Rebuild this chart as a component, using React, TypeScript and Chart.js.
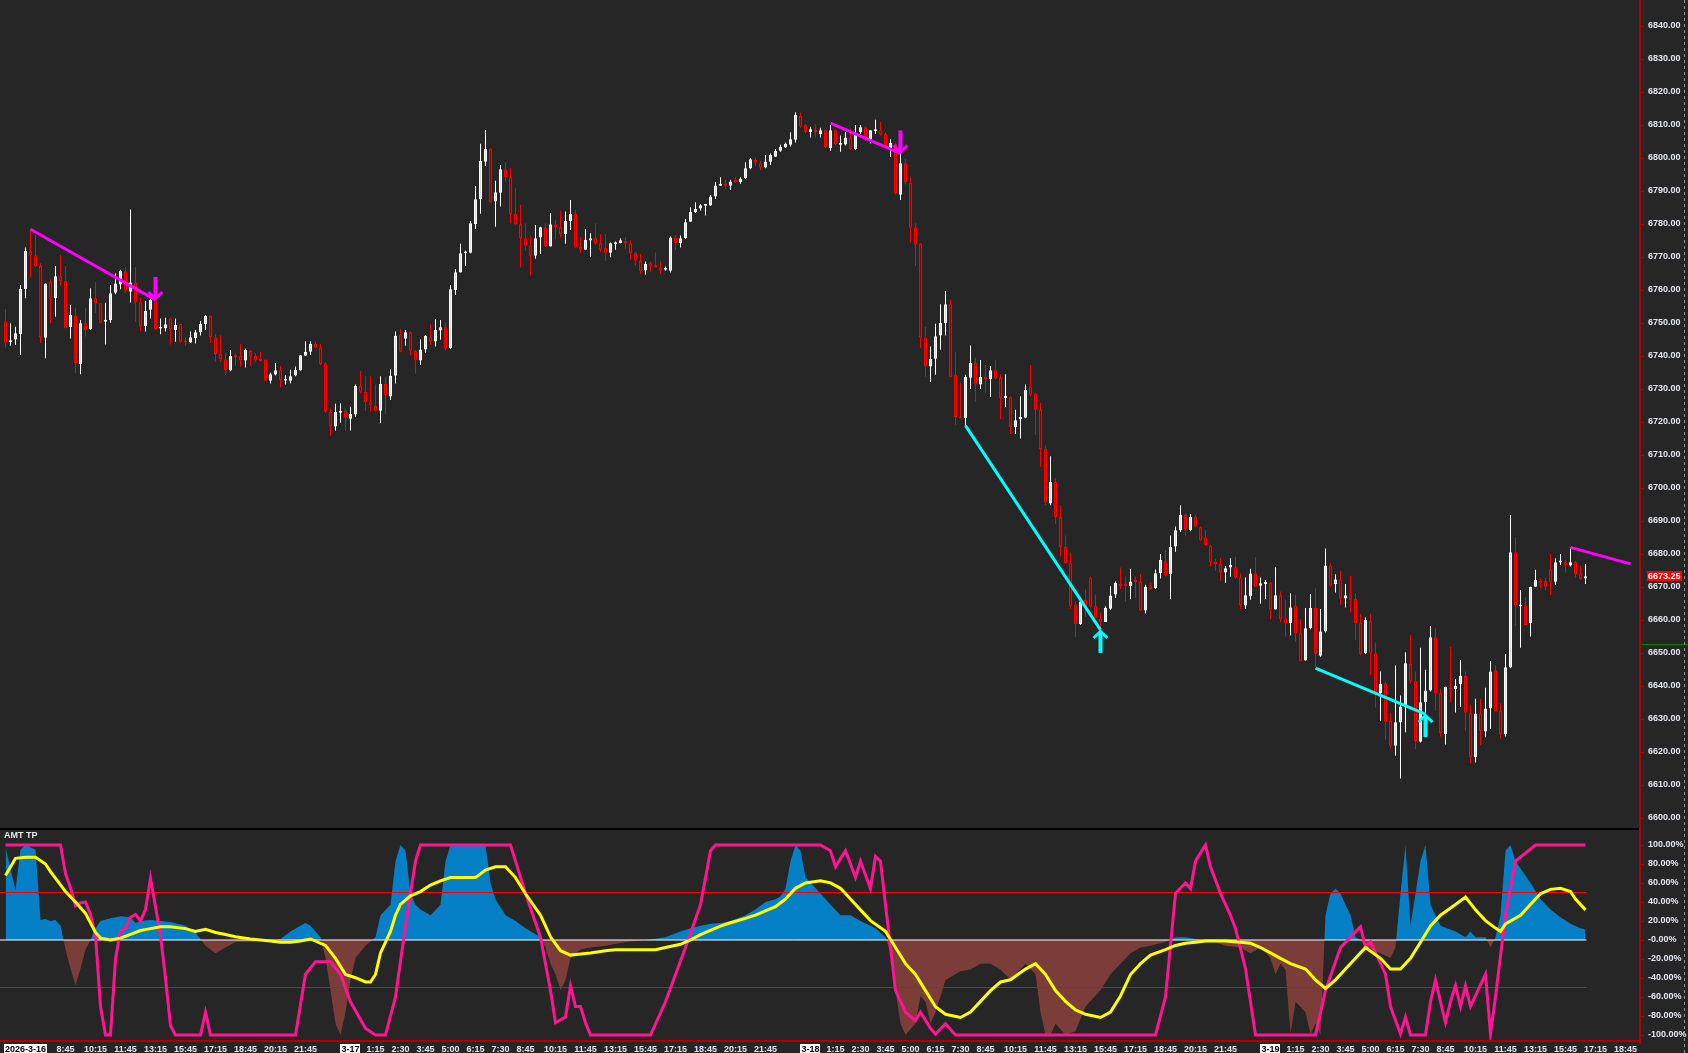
import React, { useEffect, useRef } from 'react';
import { Chart, registerables } from 'chart.js';
Chart.register(...registerables);

// ---------------- price data (15-min bars) ----------------
const opens = [
6750.4,6744.2,6745.0,6746.6,6760.2,6771.8,6770.5,6767.3,6745.5,6762.5,
6757.5,6764.2,6762.7,6748.7,6752.1,6737.5,6749.9,6748.1,6757.5,6756.0,
6750.4,6750.9,6759.2,6761.7,6765.7,6759.5,6762.3,6756.3,6749.1,6754.0,
6756.7,6748.3,6748.4,6751.4,6747.9,6749.7,6744.6,6744.1,6745.4,6747.1,
6749.6,6752.1,6745.7,6740.6,6739.0,6735.6,6740.1,6740.0,6738.6,6741.5,
6740.0,6738.8,6738.8,6732.5,6734.4,6735.7,6732.5,6732.5,6734.1,6735.6,
6740.1,6741.3,6743.6,6742.6,6737.8,6723.1,6718.6,6722.8,6723.3,6721.0,
6722.3,6730.9,6729.1,6726.1,6724.9,6723.4,6731.5,6727.7,6734.0,6746.5,
6745.2,6747.2,6741.5,6738.6,6742.0,6745.7,6744.4,6747.7,6748.7,6742.4,
6760.0,6765.3,6771.1,6771.3,6779.9,6787.5,6798.9,6802.7,6786.8,6789.5,
6796.6,6794.2,6783.0,6779.9,6775.7,6773.5,6770.4,6775.9,6779.0,6773.2,
6779.9,6779.0,6777.0,6780.9,6783.0,6773.0,6772.2,6775.0,6775.7,6774.2,
6772.7,6771.3,6773.9,6774.2,6774.7,6774.0,6771.3,6768.9,6765.9,6768.1,
6767.5,6766.9,6766.1,6765.8,6775.9,6774.2,6775.7,6780.7,6783.6,6784.7,
6785.5,6785.6,6788.3,6791.6,6792.1,6791.6,6793.1,6792.7,6793.9,6796.9,
6799.4,6798.4,6797.1,6798.9,6800.4,6802.2,6803.2,6804.0,6805.5,6812.7,
6810.0,6807.9,6808.4,6807.3,6808.4,6803.0,6808.4,6804.0,6804.1,6806.2,
6802.7,6807.9,6809.2,6805.7,6808.1,6808.4,6807.3,6803.0,6804.1,6788.9,
6798.4,6792.4,6779.0,6774.0,6745.6,6736.8,6739.2,6746.2,6750.0,6755.7,
6734.3,6721.6,6721.1,6733.4,6737.9,6731.4,6733.7,6733.0,6735.7,6733.4,
6727.3,6727.5,6718.4,6720.8,6721.3,6730.5,6728.6,6723.7,6711.8,6695.3,
6701.8,6691.2,6682.1,6677.2,6664.7,6658.8,6666.1,6672.9,6664.2,6660.4,
6659.4,6663.4,6667.7,6671.0,6671.0,6670.2,6672.1,6671.7,6662.9,6670.2,
6669.7,6674.2,6677.8,6673.9,6682.3,6687.2,6691.9,6687.2,6691.2,6688.1,
6685.0,6682.4,6677.7,6677.0,6674.4,6675.9,6676.0,6672.9,6664.4,6667.1,
6674.1,6670.4,6670.9,6671.4,6663.2,6667.5,6660.5,6659.0,6664.2,6656.0,
6647.7,6657.5,6663.6,6649.2,6656.5,6676.5,6670.8,6672.3,6666.5,6667.5,
6666.4,6659.0,6649.9,6659.7,6649.9,6637.8,6640.8,6629.4,6621.9,6629.0,
6633.8,6646.7,6641.5,6623.1,6635.1,6638.6,6654.8,6637.8,6625.4,6639.6,
6639.0,6640.5,6643.0,6632.0,6618.4,6631.7,6626.2,6633.2,6644.7,6632.5,
6625.4,6645.6,6680.5,6664.1,6664.4,6659.0,6670.1,6671.9,6671.8,6675.4,
6671.6,6677.4,6677.5,6676.5,6677.5,6674.1,6672.6];
const highs = [
6754.2,6749.9,6748.9,6761.5,6772.9,6778.4,6776.7,6768.1,6762.0,6763.2,
6767.3,6770.6,6767.3,6755.5,6754.6,6750.9,6754.6,6760.5,6762.4,6756.0,
6756.1,6761.5,6765.0,6766.1,6766.9,6784.4,6766.9,6757.5,6756.7,6759.0,
6757.0,6751.4,6751.6,6751.6,6751.4,6749.9,6745.6,6747.4,6747.9,6750.6,
6752.4,6752.3,6746.7,6746.4,6741.0,6741.8,6740.8,6743.6,6742.3,6742.0,
6740.8,6741.2,6739.0,6734.9,6737.9,6737.0,6734.2,6735.8,6736.8,6740.3,
6744.5,6744.5,6744.3,6743.6,6738.0,6724.1,6725.5,6725.7,6724.1,6724.6,
6731.4,6735.5,6733.9,6733.9,6731.4,6733.9,6733.7,6736.0,6747.4,6748.1,
6747.9,6747.4,6741.8,6745.1,6746.4,6749.7,6751.2,6750.9,6750.1,6761.5,
6766.4,6774.0,6771.9,6780.9,6791.5,6804.3,6808.5,6803.0,6793.1,6797.9,
6798.8,6796.9,6790.8,6785.8,6780.2,6776.4,6779.7,6779.2,6780.2,6783.3,
6781.2,6784.0,6783.8,6787.3,6784.3,6776.0,6778.5,6777.2,6780.2,6777.0,
6777.0,6774.4,6774.7,6775.7,6776.0,6775.0,6771.6,6770.9,6768.6,6768.7,
6771.4,6768.6,6767.1,6776.2,6776.7,6776.5,6781.5,6785.1,6786.6,6786.0,
6785.8,6788.8,6792.7,6794.2,6793.4,6793.4,6794.2,6794.2,6798.7,6799.9,
6800.1,6799.1,6800.9,6801.4,6802.7,6804.0,6804.7,6807.8,6813.9,6813.8,
6810.2,6809.5,6810.2,6809.2,6808.6,6810.0,6808.7,6806.8,6807.9,6808.9,
6810.0,6810.0,6809.5,6808.4,6811.6,6810.9,6807.9,6805.7,6804.6,6801.4,
6799.7,6794.3,6780.3,6774.3,6748.9,6742.9,6749.8,6755.7,6759.7,6757.2,
6741.3,6731.9,6734.3,6743.2,6739.5,6738.8,6737.3,6737.0,6738.8,6734.5,
6734.5,6727.8,6723.7,6727.8,6731.4,6737.3,6728.9,6725.8,6712.9,6709.6,
6702.9,6694.8,6685.6,6680.4,6665.6,6665.6,6669.2,6673.2,6667.7,6662.3,
6664.2,6670.2,6671.7,6675.9,6673.2,6675.5,6673.2,6673.9,6670.7,6671.3,
6675.3,6680.0,6681.1,6685.6,6688.3,6694.8,6692.3,6692.1,6691.9,6688.3,
6687.3,6682.7,6678.5,6678.7,6676.4,6678.7,6679.2,6674.1,6672.9,6675.5,
6679.0,6672.9,6672.1,6671.6,6676.0,6668.6,6666.1,6668.1,6667.6,6660.2,
6663.6,6667.9,6669.6,6663.3,6681.7,6677.2,6673.9,6674.9,6670.9,6673.3,
6668.1,6661.8,6660.8,6661.8,6653.2,6644.4,6641.3,6631.9,6646.2,6637.1,
6650.2,6655.5,6644.4,6651.6,6644.9,6658.2,6657.5,6639.1,6639.8,6651.9,
6642.1,6647.9,6644.4,6634.3,6636.1,6636.1,6639.5,6647.6,6646.2,6634.8,
6649.7,6691.8,6685.1,6669.1,6666.9,6670.1,6675.2,6672.6,6672.9,6680.0,
6678.7,6680.0,6678.2,6682.0,6677.9,6676.4,6677.0];
const lows = [
6742.6,6743.1,6743.3,6740.3,6757.5,6763.7,6766.9,6744.0,6739.3,6749.9,
6751.9,6761.3,6748.4,6745.3,6734.8,6734.5,6745.9,6747.9,6753.1,6749.9,
6743.5,6750.1,6758.7,6760.2,6759.0,6756.2,6750.4,6747.6,6747.4,6751.4,
6747.9,6746.6,6747.4,6743.5,6744.3,6744.0,6743.1,6743.9,6743.8,6746.2,
6747.9,6744.0,6738.3,6738.3,6734.2,6735.4,6737.0,6736.8,6736.5,6737.0,
6738.0,6738.3,6732.5,6731.7,6734.1,6730.5,6731.4,6731.7,6733.9,6735.6,
6740.0,6740.3,6742.3,6737.3,6722.8,6715.8,6717.4,6719.8,6717.4,6717.4,
6721.6,6728.7,6723.4,6723.1,6723.1,6719.6,6722.3,6726.7,6731.7,6741.1,
6743.1,6740.3,6734.6,6737.3,6741.0,6743.4,6742.9,6744.9,6741.6,6742.1,
6758.5,6765.3,6767.3,6771.1,6778.5,6783.1,6797.6,6786.5,6779.2,6785.3,
6792.9,6780.2,6779.7,6766.8,6771.9,6764.4,6769.5,6770.9,6773.2,6773.2,
6775.4,6775.9,6774.0,6778.2,6772.9,6771.3,6772.2,6770.1,6773.7,6771.6,
6768.9,6769.9,6772.2,6774.2,6772.5,6769.1,6767.4,6764.9,6764.6,6765.6,
6766.9,6764.9,6765.8,6765.3,6772.2,6772.9,6775.5,6780.7,6783.3,6784.1,
6782.6,6785.5,6787.6,6791.6,6790.6,6790.3,6792.4,6792.2,6793.7,6796.6,
6797.6,6796.4,6796.9,6797.9,6800.4,6801.9,6803.0,6803.5,6804.7,6809.2,
6807.5,6806.2,6806.2,6806.2,6803.0,6802.2,6803.9,6801.9,6803.8,6802.5,
6802.5,6807.3,6805.2,6804.4,6807.3,6806.8,6803.5,6800.3,6788.9,6787.3,
6792.0,6774.5,6767.3,6742.4,6733.7,6732.1,6734.3,6741.9,6746.2,6733.7,
6719.1,6721.1,6718.9,6730.0,6726.2,6730.0,6728.9,6727.6,6733.0,6720.8,
6724.5,6716.4,6716.4,6715.0,6721.1,6727.8,6716.1,6706.4,6694.8,6694.8,
6689.1,6679.3,6677.2,6663.4,6654.8,6658.5,6660.9,6663.7,6660.5,6657.5,
6659.4,6663.1,6666.7,6669.4,6665.6,6666.3,6666.7,6662.7,6662.0,6669.1,
6669.4,6672.6,6673.2,6666.3,6680.7,6686.7,6685.6,6686.9,6688.0,6684.0,
6682.5,6676.2,6674.9,6671.9,6671.3,6673.1,6672.4,6663.3,6663.3,6666.1,
6670.1,6664.9,6666.3,6660.2,6663.2,6659.3,6655.0,6655.3,6653.4,6647.6,
6647.7,6657.2,6645.9,6648.9,6656.2,6670.1,6668.3,6664.6,6663.8,6662.3,
6653.9,6649.4,6649.7,6643.3,6633.5,6629.5,6623.8,6621.1,6618.9,6612.0,
6626.0,6640.8,6620.8,6622.9,6632.0,6638.3,6632.5,6624.7,6622.3,6635.0,
6632.0,6633.6,6626.5,6616.6,6616.8,6622.1,6624.5,6627.0,6632.4,6624.2,
6624.7,6645.4,6658.3,6651.6,6658.5,6655.0,6670.1,6669.6,6669.1,6667.6,
6670.6,6676.7,6674.4,6676.2,6672.9,6672.1,6670.9];
const closes = [
6744.0,6744.8,6746.9,6760.3,6771.8,6770.5,6767.2,6745.7,6762.0,6757.8,
6764.2,6762.7,6748.4,6752.4,6737.8,6749.9,6747.8,6757.5,6756.0,6750.1,
6750.9,6759.0,6762.0,6765.8,6759.8,6762.3,6756.2,6749.1,6753.6,6757.0,
6748.1,6748.6,6749.6,6748.1,6749.4,6744.3,6744.1,6745.7,6747.2,6749.7,
6752.1,6745.7,6740.6,6739.0,6735.6,6740.0,6739.6,6738.6,6741.8,6739.8,
6738.6,6738.5,6732.5,6734.5,6735.7,6732.7,6733.0,6733.9,6735.8,6740.2,
6741.3,6743.6,6742.6,6737.6,6723.1,6718.6,6723.1,6723.1,6721.3,6722.4,
6730.9,6729.2,6726.0,6725.0,6723.4,6731.5,6728.0,6734.0,6746.1,6741.3,
6747.2,6741.6,6738.6,6742.0,6746.1,6744.4,6747.9,6748.7,6742.2,6760.2,
6765.4,6771.1,6771.5,6780.2,6787.5,6799.1,6802.7,6786.5,6789.6,6796.6,
6794.2,6783.0,6779.9,6775.7,6773.5,6770.4,6775.7,6779.0,6773.2,6779.9,
6779.1,6777.0,6780.9,6783.1,6772.9,6772.2,6775.2,6775.7,6774.0,6772.2,
6771.3,6774.2,6774.2,6775.1,6774.2,6771.1,6768.9,6765.6,6767.9,6767.1,
6766.9,6765.9,6766.4,6775.9,6774.2,6775.7,6780.5,6783.6,6784.6,6785.7,
6785.8,6788.3,6791.7,6792.1,6791.6,6792.9,6792.7,6793.7,6796.9,6799.6,
6798.6,6797.1,6798.9,6800.9,6802.1,6803.3,6804.3,6805.7,6813.1,6809.5,
6807.9,6808.7,6807.9,6808.4,6803.2,6808.4,6804.1,6804.4,6806.2,6802.7,
6807.3,6809.3,6806.2,6808.4,6808.4,6807.1,6803.8,6804.6,6789.3,6798.4,
6792.7,6778.9,6773.8,6745.6,6737.0,6739.2,6746.0,6750.0,6755.7,6733.7,
6721.5,6721.1,6733.7,6737.9,6731.4,6733.7,6733.0,6735.7,6733.2,6727.3,
6727.8,6718.4,6720.5,6721.5,6729.7,6728.3,6723.7,6711.8,6695.7,6701.8,
6691.2,6682.1,6677.2,6664.2,6658.8,6665.6,6664.2,6664.0,6660.7,6659.4,
6663.7,6667.4,6671.3,6670.2,6670.2,6671.7,6671.5,6662.9,6670.1,6669.4,
6674.2,6678.2,6673.5,6682.1,6687.2,6691.9,6687.5,6691.2,6688.3,6684.2,
6682.7,6677.4,6676.9,6674.4,6675.7,6676.7,6672.9,6664.4,6667.5,6674.1,
6670.1,6671.1,6671.5,6663.2,6667.5,6660.2,6659.0,6663.8,6656.0,6647.6,
6657.5,6663.6,6649.6,6656.5,6676.5,6670.4,6672.3,6666.6,6667.5,6666.1,
6659.0,6649.7,6660.0,6650.1,6637.3,6640.6,6629.2,6621.9,6629.0,6633.8,
6646.9,6641.6,6623.3,6635.1,6638.6,6654.8,6637.8,6625.7,6639.8,6639.0,
6640.1,6643.1,6632.0,6618.4,6631.7,6626.4,6633.2,6644.4,6632.4,6625.4,
6645.7,6680.5,6664.4,6664.6,6658.5,6670.1,6672.1,6671.3,6670.1,6671.6,
6677.5,6677.7,6676.5,6677.5,6673.8,6672.4,6673.25];

const priceTicks = [6600,6610,6620,6630,6640,6650,6660,6670,6680,6690,6700,6710,6720,6730,6740,6750,6760,6770,6780,6790,6800,6810,6820,6830,6840];
const pctTicks = [100,80,60,40,20,0,-20,-40,-60,-80,-100];
const greenLevel = 6652.75;

// trend lines (bar index / price) and arrows
const trendStartIdx = [5, 165, 313, 192, 262];
const trendStartPrice = [6778.4, 6810.6, 6682.0, 6718.9, 6645.4];
const trendEndIdx = [30, 179, 325, 219, 284];
const trendEndPrice = [6757.0, 6801.4, 6677.0, 6657.0, 6631.5];
const trendIsUp = [false, false, false, true, true];
const arrowIdx = [30, 179, 219, 284];
const arrowPrice = [6757.0, 6801.4, 6657.0, 6631.5];
const arrowIsUp = [false, false, true, true];

// x-axis labels
const timeTickIdx = [0,12,18,24,30,36,42,48,54,60,69,74,79,84,89,94,99,104,110,116,122,128,134,140,146,152,161,166,171,176,181,186,191,196,202,208,214,220,226,232,238,244,253,258,263,268,273,278,283,288,294,300,306,312,318,324];
const timeTickLabels = ['2026-3-16','8:45','10:15','11:45','13:15','15:45','17:15','18:45','20:15','21:45','3-17','1:15','2:30','3:45','5:00','6:15','7:30','8:45','10:15','11:45','13:15','15:45','17:15','18:45','20:15','21:45','3-18','1:15','2:30','3:45','5:00','6:15','7:30','8:45','10:15','11:45','13:15','15:45','17:15','18:45','20:15','21:45','3-19','1:15','2:30','3:45','5:00','6:15','7:30','8:45','10:15','11:45','13:15','15:45','17:15','18:45'];

// ---------------- AMT TP indicator ----------------
const histIdx = [0,1,2,3,4,6,7,8,9,10,11,12,13,14,15,16,17,18,19,21,23,25,26,27,29,31,33,36,38,40,42,44,46,49,51,53,55,57,59,60,61,63,64,65,66,67,68,69,70,72,74,75,77,78,79,80,81,82,83,85,87,88,89,96,97,98,100,102,104,107,108,109,110,111,112,113,115,117,120,124,128,132,135,137,139,141,143,145,148,150,152,154,155,156,157,158,159,160,163,165,167,169,171,173,174,176,177,178,179,180,182,183,184,185,186,187,188,191,193,195,197,199,201,204,206,207,208,209,210,212,214,216,219,221,223,225,227,229,232,234,236,238,240,242,244,247,249,251,253,254,255,256,257,258,260,261,262,263,264,265,266,267,268,269,270,271,272,275,277,278,279,280,281,282,283,284,285,287,290,292,293,294,296,297,298,299,300,301,302,305,307,309,311,313,315,316];
const histVal = [98,75,53,95,100,95,21,22,20,21,15,-10,-30,-48,-30,-10,0,12,20,23,25,24,18,20,21,20,19,15,8,-6,-14,-8,-2,-2,0,-2,1,9,15,18,15,3,-19,-53,-88,-100,-76,-42,-19,-6,3,26,37,83,100,94,49,37,32,26,37,83,100,100,60,43,26,20,12.5,3,-8,-25,-36,-53,-42,-19,-10,-8,-6,-2,0,3,9,12.5,15,17,18,20,26,32,40,43,46,54,83,100,94,66,49,37,26,26,20,15,12.5,3,-14,-53,-88,-100,-88,-59,-65,-88,-76,-59,-42,-33,-31,-25,-25,-31,-42,-25,-36,-76,-100,-100,-88,-100,-96,-70,-53,-36,-25,-14,-8,-6,-2,3,3,1,-1,-2,-6,-8,-14,-8,-19,-36,-25,-31,-99,-65,-76,-99,-88,-100,26,49,54,49,37,26,3,0,-8,-14,-19,-8,49,100,15,49,83,100,37,15,9,3,9,3,3,-8,3,26,94,100,83,60,43,32,24,17,12.5,11];
const magIdx = [0,11,12,13,14,15,16,17,18,19,20,21,22,23,24,25,26,27,28,29,30,31,32,33,34,39,40,41,58,60,62,65,67,69,72,74,76,78,80,82,83,101,102,104,107,109,110,112,113,114,115,116,117,129,132,136,139,141,142,163,165,166,168,170,171,173,174,175,176,177,178,180,182,183,185,186,188,190,230,232,234,236,237,238,240,241,243,245,246,248,250,262,264,267,269,271,272,273,276,277,279,280,281,284,285,286,287,288,289,290,291,292,293,296,297,298,300,302,306,316];
const magVal = [100,100,70,55,36,39,40,27,5,-70,-100,-100,-20,10,12,24,27,20,32,65,35,5,-40,-90,-100,-100,-76,-100,-100,-36,-23,-23,-36,-65,-93,-100,-100,-60,15,83,100,100,83,49,3,-53,-87,-81,-48,-70,-70,-87,-100,-100,-65,-8,37,94,100,100,94,77,94,66,83,54,88,83,37,-8,-53,-76,-85,-76,-93,-99,-88,-100,-100,-60,49,60,54,83,100,77,49,26,12,-30,-100,-100,-53,-8,3,14,-8,-2,-36,-70,-99,-81,-100,-100,-65,-42,-65,-87,-65,-48,-70,-48,-70,-36,-99,-60,26,83,100,100];
const yellowIdx = [0,2,4,6,8,9,11,12,14,16,17,18,19,21,23,25,27,29,31,33,36,38,40,42,44,46,49,51,53,55,57,59,61,64,66,68,70,72,73,74,75,77,78,79,81,83,85,87,89,92,94,96,98,100,102,104,107,109,111,113,115,117,120,122,124,126,128,130,132,135,137,139,141,143,145,148,150,152,154,156,158,160,163,165,167,169,171,173,176,178,180,182,184,186,188,191,193,195,197,199,201,204,206,208,210,212,214,216,219,221,223,225,227,229,232,234,236,238,240,242,244,247,249,251,253,255,257,260,262,264,266,268,270,272,275,277,279,281,283,285,287,290,292,294,296,298,299,300,303,305,307,309,311,313,314,316];
const yellowVal = [68,86,87,87,80,72,58,51,40,28,18,8,2,0,2,6,10,12,14,14,12,9.1,11.3,7.9,5.7,3.4,1.1,0,-1.1,-2.3,-2.3,-1.1,1.1,-5.7,-19.3,-36.3,-39.7,-44.2,-44.2,-36.3,-13.6,9.1,26.1,37.4,46.5,51.0,57.8,62.3,65.7,65.7,65.7,73.6,77.0,77.0,65.7,48.7,26.1,3.4,-11.3,-15.9,-14.7,-13.6,-11.3,-10.2,-10.2,-10.2,-10.2,-10.2,-7.9,-4.5,0,5.7,10.2,14.7,18.1,22.7,26.1,30.6,35.1,43.1,54.4,60.1,62.3,60.1,54.4,43.1,31.7,20.4,9.1,-7.9,-24.9,-36.3,-53.3,-70.2,-78.2,-81.6,-75.9,-64.6,-53.3,-44.2,-41.9,-30.6,-24.9,-36.3,-53.3,-64.6,-73.6,-78.2,-81.6,-75.9,-58.9,-36.3,-24.9,-15.9,-10.2,-5.7,-3.4,-2.3,-1.1,-1.1,-1.1,-2.3,-3.4,-7.9,-13.6,-19.3,-24.9,-30.6,-41.9,-51.0,-41.9,-30.6,-19.3,-7.9,-19.3,-30.6,-30.6,-19.3,-2.3,14.7,26.1,37.4,45.3,31.7,20.4,12.5,9.1,17.0,26.1,37.4,48.7,53.3,54.4,51.0,43.1,31.7];
const levelValues = [50, 0, -50];
const levelColors = ['#ff0000', '#ffffff', '#008000'];
const levelEndIdx = 316.2;

// ---------------- layout / style ----------------
const W = 1688;
const MAIN_H = 828;
const IND_H = 225;
const AXIS_W = 48;
const BG = '#262626';
const AXIS_RED = '#b40000';
const LABEL = '#e4e7f0';
const FONT = '"Liberation Sans", Arial, sans-serif';
const X_MIN = -1.1;
const X_MAX = 326.9;
const PRICE_MIN = 6596.97;
const PRICE_MAX = 6847.88;
const PCT_MIN = -105.26;
const PCT_MAX = 115.79;

function makeArrow(color: string, up: boolean): HTMLCanvasElement {
  const c = document.createElement('canvas');
  c.width = 21;
  c.height = 50;
  const g = c.getContext('2d')!;
  const cx = 10.5;
  const tip = 25;
  const dir = up ? 1 : -1;
  g.fillStyle = color;
  g.strokeStyle = color;
  if (up) g.fillRect(cx - 2, tip + 3, 4, 20);
  else g.fillRect(cx - 2, tip - 23, 4, 20);
  g.lineWidth = 3;
  g.lineJoin = 'miter';
  g.beginPath();
  g.moveTo(cx - 7, tip + dir * 8);
  g.lineTo(cx, tip + dir * 1.5);
  g.lineTo(cx + 7, tip + dir * 8);
  g.stroke();
  return c;
}

function yAxisCommon(tickValues: number[], fmt: (v: number) => string) {
  return {
    type: 'linear' as const,
    position: 'right' as const,
    beginAtZero: false,
    afterBuildTicks: (s: any) => { s.ticks = tickValues.map((v) => ({ value: v })); },
    afterFit: (s: any) => { s.width = AXIS_W; s.paddingTop = 0; s.paddingBottom = 0; },
    ticks: {
      color: LABEL,
      font: { family: FONT, size: 9, weight: 'bold' as const },
      padding: 4,
      autoSkip: false,
      callback: (v: any) => fmt(Number(v)),
    },
    grid: { drawOnChartArea: false, drawTicks: true, tickLength: 4, color: AXIS_RED, lineWidth: 1 },
    border: { display: true, color: AXIS_RED, width: 2 },
  };
}

function drawDashed(ctx: CanvasRenderingContext2D, h: number) {
  ctx.save();
  ctx.strokeStyle = '#8c8c8c';
  ctx.lineWidth = 1;
  ctx.setLineDash([3, 3]);
  ctx.beginPath();
  ctx.moveTo(1684.5, 0);
  ctx.lineTo(1684.5, h);
  ctx.stroke();
  ctx.restore();
}

export default function App() {
  const mainRef = useRef<HTMLCanvasElement>(null);
  const indRef = useRef<HTMLCanvasElement>(null);

  useEffect(() => {
    document.body.style.margin = '0';
    document.body.style.background = BG;
    const charts: Chart[] = [];

    const isUp = closes.map((c, i) => c >= opens[i]);
    const wickData = highs.map((h, i) => ({ x: i, y: [lows[i], h] }));
    const bodyData = opens.map((o, i) => {
      const lo = Math.min(o, closes[i]);
      const hi = Math.max(o, closes[i], lo + 0.6);
      return { x: i, y: [lo, hi] };
    });

    const trendSets = trendStartIdx.map((s, k) => ({
      type: 'line' as const,
      data: [{ x: s, y: trendStartPrice[k] }, { x: trendEndIdx[k], y: trendEndPrice[k] }],
      borderColor: trendIsUp[k] ? '#00ffff' : '#ff00ff',
      borderWidth: 3,
      pointRadius: 0,
      tension: 0,
      order: 1,
    }));

    const arrowSet = {
      type: 'line' as const,
      data: arrowIdx.map((x, k) => ({ x, y: arrowPrice[k] })),
      showLine: false,
      pointStyle: arrowIdx.map((_, k) => makeArrow(arrowIsUp[k] ? '#00ffff' : '#ff00ff', arrowIsUp[k])),
      pointRadius: 10,
      order: 0,
    };

    const bgPlugin = {
      id: 'bg',
      beforeDraw(chart: any) {
        const ctx = chart.ctx;
        ctx.save();
        ctx.fillStyle = BG;
        ctx.fillRect(0, 0, chart.width, chart.height);
        ctx.restore();
      },
    };

    const mainOverlay = {
      id: 'mainOverlay',
      afterDraw(chart: any) {
        const ctx: CanvasRenderingContext2D = chart.ctx;
        const y = chart.scales.y;
        ctx.save();
        const gy = Math.round(y.getPixelForValue(greenLevel)) + 0.5;
        ctx.strokeStyle = '#008000';
        ctx.lineWidth = 1;
        ctx.beginPath();
        ctx.moveTo(1641, gy);
        ctx.lineTo(W, gy);
        ctx.stroke();
        const last = closes[closes.length - 1];
        const py = y.getPixelForValue(last);
        ctx.fillStyle = '#ff0000';
        ctx.fillRect(1647, Math.round(py) - 5, 35, 10);
        ctx.fillStyle = '#ffffff';
        ctx.font = `bold 9px ${FONT}`;
        ctx.textBaseline = 'middle';
        ctx.textAlign = 'left';
        ctx.fillText(last.toFixed(2), 1648, Math.round(py) + 0.5);
        ctx.restore();
        drawDashed(ctx, chart.height);
      },
    };

    if (mainRef.current) {
      charts.push(new Chart(mainRef.current, {
        type: 'bar',
        data: {
          datasets: [
            ...trendSets,
            arrowSet as any,
            {
              type: 'bar',
              data: bodyData as any,
              backgroundColor: isUp.map((u) => (u ? '#d8d8d8' : '#8c0000')),
              borderColor: isUp.map((u) => (u ? '#ffffff' : '#ff0000')),
              borderWidth: 1,
              borderSkipped: false,
              barThickness: 3,
              grouped: false,
              inflateAmount: 0,
              order: 2,
            } as any,
            {
              type: 'bar',
              data: wickData as any,
              backgroundColor: isUp.map((u) => (u ? '#ffffff' : '#ff0000')),
              borderWidth: 0,
              barThickness: 1,
              grouped: false,
              inflateAmount: 0,
              order: 3,
            } as any,
          ],
        },
        options: {
          responsive: false,
          animation: false,
          devicePixelRatio: 1,
          events: [],
          layout: { padding: 0, autoPadding: false },
          plugins: { legend: { display: false }, tooltip: { enabled: false } },
          scales: {
            x: { type: 'linear', min: X_MIN, max: X_MAX, display: false, offset: false, grid: { offset: false } } as any,
            y: { ...yAxisCommon(priceTicks, (v) => v.toFixed(2)), min: PRICE_MIN, max: PRICE_MAX } as any,
          },
        },
        plugins: [bgPlugin, mainOverlay],
      }));
    }

    const indOverlay = {
      id: 'indOverlay',
      afterDraw(chart: any) {
        const ctx: CanvasRenderingContext2D = chart.ctx;
        const xs = chart.scales.x;
        const area = chart.chartArea;
        ctx.save();
        ctx.fillStyle = '#000000';
        ctx.fillRect(0, 0, area.right - 1, 2);
        ctx.fillStyle = AXIS_RED;
        ctx.fillRect(area.right - 1, 0, 2, area.top);
        ctx.fillRect(area.right - 1, area.bottom, 2, 4);
        ctx.fillRect(0, area.bottom, area.right + 1, 2);
        ctx.fillStyle = '#e8e8e8';
        ctx.font = `bold 9px ${FONT}`;
        ctx.textBaseline = 'middle';
        ctx.textAlign = 'left';
        ctx.fillText('AMT TP', 4, 8);
        const ty = area.bottom + 9.5;
        timeTickIdx.forEach((idx, k) => {
          const label = timeTickLabels[k];
          const px = xs.getPixelForValue(idx);
          const isDate = label.indexOf('-') >= 0;
          const tw = ctx.measureText(label).width;
          let left = px - tw / 2;
          if (k === 0) left = px - 0.5;
          if (isDate) {
            ctx.fillStyle = '#ffffff';
            ctx.fillRect(Math.round(left) - 1, area.bottom + 4, Math.round(tw) + 2, 10);
            ctx.fillStyle = '#000000';
          } else {
            ctx.fillStyle = LABEL;
          }
          ctx.fillText(label, left, ty);
        });
        ctx.restore();
        drawDashed(ctx, chart.height);
      },
    };

    const pts = (idx: number[], vals: number[]) => idx.map((x, k) => ({ x, y: vals[k] }));

    if (indRef.current) {
      charts.push(new Chart(indRef.current, {
        type: 'line',
        data: {
          datasets: [
            {
              data: pts(yellowIdx, yellowVal),
              borderColor: '#ffff00',
              borderWidth: 3,
              pointRadius: 0,
              tension: 0,
              order: 1,
            },
            {
              data: pts(magIdx, magVal),
              borderColor: '#ff1493',
              borderWidth: 3,
              pointRadius: 0,
              tension: 0,
              order: 2,
            },
            ...levelValues.map((v, k) => ({
              data: [{ x: X_MIN, y: v }, { x: levelEndIdx, y: v }],
              borderColor: levelColors[k],
              borderWidth: 1,
              pointRadius: 0,
              order: 4,
            })),
            {
              data: pts(histIdx, histVal),
              borderColor: 'rgba(0,0,0,0)',
              borderWidth: 0,
              pointRadius: 0,
              tension: 0,
              fill: { target: 'origin', above: '#0580c6', below: '#7a3d39' },
              order: 6,
            } as any,
          ],
        },
        options: {
          responsive: false,
          animation: false,
          devicePixelRatio: 1,
          events: [],
          layout: { padding: { top: 2, bottom: 13, left: 0, right: 0 }, autoPadding: false },
          plugins: { legend: { display: false }, tooltip: { enabled: false } },
          scales: {
            x: { type: 'linear', min: X_MIN, max: X_MAX, display: false, offset: false } as any,
            y: {
              ...yAxisCommon(pctTicks, (v) => (v === 0 ? '-0.00%' : v.toFixed(2) + '%')),
              min: PCT_MIN,
              max: PCT_MAX,
            } as any,
          },
        },
        plugins: [bgPlugin, indOverlay],
      }));
    }

    return () => { charts.forEach((c) => c.destroy()); };
  }, []);

  return (
    <div style={{ position: 'relative', width: W, height: MAIN_H + IND_H, background: BG, overflow: 'hidden' }}>
      <canvas ref={mainRef} width={W} height={MAIN_H} style={{ position: 'absolute', left: 0, top: 0, width: W, height: MAIN_H }} />
      <canvas ref={indRef} width={W} height={IND_H} style={{ position: 'absolute', left: 0, top: MAIN_H, width: W, height: IND_H }} />
    </div>
  );
}
